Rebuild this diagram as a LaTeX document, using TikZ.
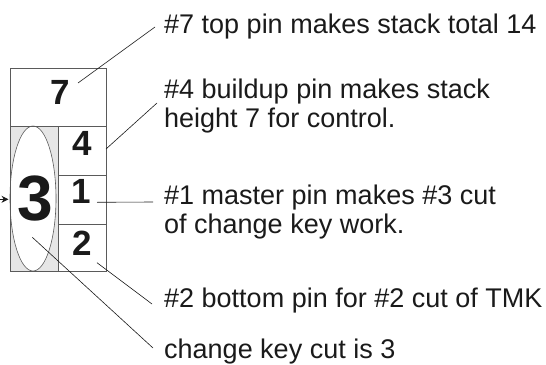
\documentclass[tikz,border=0pt]{standalone}
\usepackage{fontspec}
\setmainfont{Liberation Sans}
\usetikzlibrary{arrows.meta,positioning,calc}
\definecolor{Ink}{HTML}{1A1A1A}
\definecolor{FrameGray}{HTML}{5A5A5A}
\definecolor{ShadeGray}{HTML}{E6E6E6}
\definecolor{White}{HTML}{FFFFFF}

\tikzset{
  pinnum/.style={inner sep=0pt,font=\bfseries\fontsize{35}{35}\selectfont,text=Ink},
  note/.style={anchor=base west,inner sep=0pt,align=left,
    font=\fontsize{27}{29}\selectfont,text=Ink},
  leader/.style={draw=Ink,line width=0.6pt},
}

\begin{document}
\begin{tikzpicture}[x=1pt,y=-1pt]
  \useasboundingbox (0,0) rectangle (546,364);

  % stack of pins
  \fill[ShadeGray] (10,126) rectangle (58.3,271);
  \draw[draw=FrameGray,line width=0.6pt,fill=White]
    (33,198.5) ellipse [x radius=23pt,y radius=72.5pt];
  \draw[draw=FrameGray,line width=1pt] (10,68.3) rectangle (106,271);
  \draw[draw=FrameGray,line width=1pt] (10,126) -- (106,126);
  \draw[draw=FrameGray,line width=1pt] (58.3,126) -- (58.3,271);
  \foreach \y in {175.7,224} {
    \draw[draw=FrameGray,line width=1pt] (58.3,\y) -- (106,\y);
  }

  \node[pinnum] (pin7) at (60.7,92.3) {7};
  \node[pinnum] (pin4) at (82.2,143.5) {4};
  \node[pinnum] (pin1) at (81.7,191.7) {1};
  \node[pinnum] (pin2) at (82.2,242.8) {2};
  \node[pinnum,font=\bfseries\fontsize{64}{64}\selectfont] (pin3) at (35.3,198.3) {3};

  % arrow into the change key pin
  \coordinate (keytail) at (0,199.3);
  \coordinate (keytip) at (8.5,199.3);
  \draw[leader,line width=0.9pt,-{Stealth[length=7pt,width=7pt]}] (keytail) -- (keytip);

  % notes (base = last line)
  \node[note] (note7) at (164,33) {\#7 top pin makes stack total 14};
  \node[note] (note4) at (164,127) {\#4 buildup pin makes stack\\height 7 for control.};
  \node[note] (note1) at (164,233) {\#1 master pin makes \#3 cut\\of change key work.};
  \node[note] (note2) at (164,307) {\#2 bottom pin for \#2 cut of TMK};
  \node[note] (note3) at (164,358) {change key cut is 3};

  % leader lines
  \coordinate (from7) at (78,83);     \coordinate (to7) at (155,27);
  \coordinate (from4) at (106,149);   \coordinate (to4) at (157,103);
  \coordinate (from1) at (97,202.3);  \coordinate (to1) at (153,202);
  \coordinate (from2) at (97,262.7);  \coordinate (to2) at (152,304);
  \coordinate (from3) at (32.3,237.3); \coordinate (to3) at (153,348);
  \foreach \k in {7,4,1,2,3} {
    \draw[leader] (from\k) -- (to\k);
  }
\end{tikzpicture}
\end{document}
